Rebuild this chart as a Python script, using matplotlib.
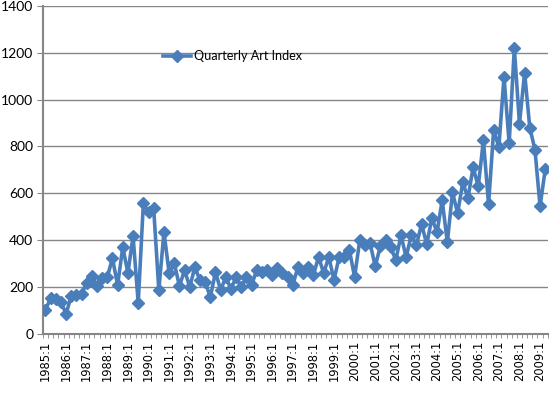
#Quarterly Art Index - recriação do gráfico

import matplotlib
matplotlib.use('Agg')
import matplotlib.pyplot as plt

# =============================================================================
# Dados
# =============================================================================
anos = list(range(1985, 2010))
trimestres = [f'{a}:{q}' for a in anos for q in (1, 2, 3, 4)][:98]

indice = [102, 153, 149, 136, 85, 162, 166, 170, 217, 247,
          204, 238, 242, 323, 208, 370, 260, 417, 132, 557,
          519, 536, 187, 434, 260, 302, 204, 272, 200, 285,
          228, 221, 157, 264, 187, 243, 191, 243, 200, 243,
          208, 272, 264, 272, 251, 281, 260, 243, 208, 285,
          260, 285, 251, 328, 260, 328, 230, 328, 328, 357,
          243, 400, 379, 387, 289, 374, 400, 370, 315, 421,
          328, 421, 379, 468, 383, 494, 434, 570, 391, 604,
          515, 647, 579, 711, 630, 826, 553, 872, 796, 1098,
          813, 1221, 898, 1115, 881, 787, 545, 702]

rotulos_x = [f'{a}:1' for a in anos]
yticks = [0, 200, 400, 600, 800, 1000, 1200, 1400]

# =============================================================================
# Plot
# =============================================================================
plt.rcParams['font.family'] = ['Lato', 'DejaVu Sans']
cinza = '#868686'
azul = '#4A7EBB'

fig = plt.figure(figsize=(5.5, 3.97), dpi=100)
ax = fig.add_axes([0.078, 0.159, 0.918, 0.826])

x = list(range(len(indice)))
ax.plot(x, indice, color=azul, lw=2.6, marker='D', markersize=6.5,
        label='Quarterly Art Index', zorder=3)

ax.set_xlim(-0.5, len(indice) - 0.5)
ax.set_ylim(0, 1400)
ax.set_yticks(yticks)
ax.set_yticklabels([str(v) for v in yticks], fontsize=10)
ax.yaxis.grid(True, color=cinza, lw=1)
ax.set_axisbelow(True)

# ticks do eixo x: rótulo a cada 4 trimestres, marquinhas em cada categoria
ax.set_xticks([i for i in x if i % 4 == 0])
ax.set_xticklabels(rotulos_x, rotation=90, fontsize=8.3, family='DejaVu Sans')
ax.set_xticks([i - 0.5 for i in range(len(indice) + 1)], minor=True)
ax.tick_params(axis='x', which='major', length=0, pad=5)
ax.tick_params(axis='x', which='minor', length=3, color=cinza, direction='out')
ax.tick_params(axis='y', length=4, color=cinza, pad=3)

for lado in ['top', 'right']:
    ax.spines[lado].set_visible(False)
for lado in ['left', 'bottom']:
    ax.spines[lado].set_color(cinza)
    ax.spines[lado].set_linewidth(1.5)

ax.legend(loc='upper left', bbox_to_anchor=(0.215, 0.9), frameon=False,
          fontsize=9.1, handlelength=2.2, handletextpad=0.3)

fig.savefig('out.png', dpi=100)
